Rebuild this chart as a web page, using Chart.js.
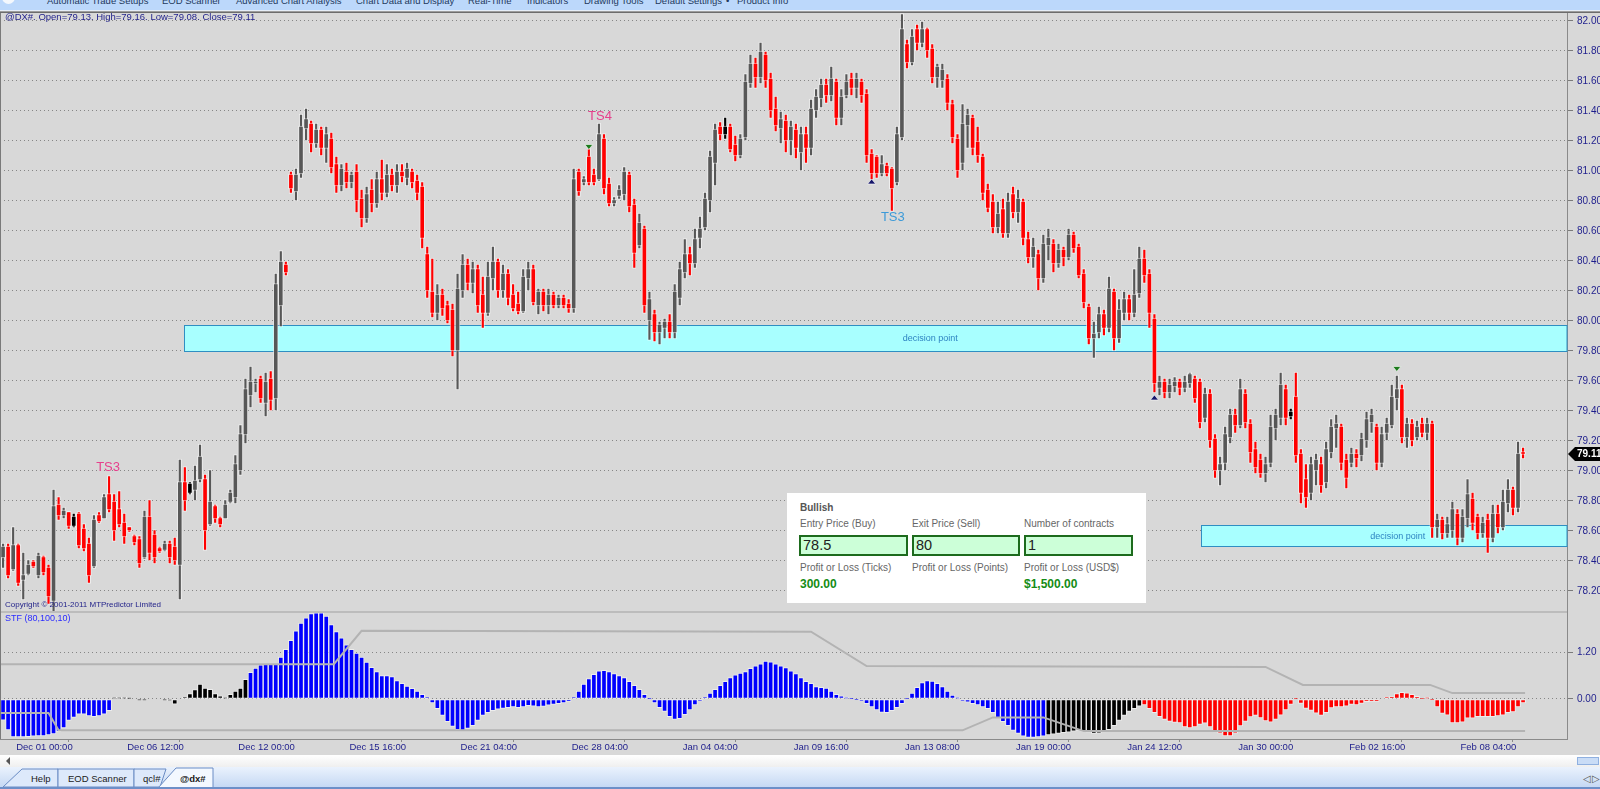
<!DOCTYPE html>
<html>
<head>
<meta charset="utf-8">
<script src="https://cdn.jsdelivr.net/npm/chart.js@4.4.1/dist/chart.umd.min.js"></script>
<style>
body{margin:0;width:1600px;height:789px;overflow:hidden;background:#d8d8d8;position:relative;font-family:"Liberation Sans",Arial,sans-serif}
.abs{position:absolute}
#menu{left:0;top:0;width:1600px;height:10px;background:#bcd8fb;overflow:hidden}
#menu span{position:absolute;top:-5px;font-size:9.5px;line-height:12px;color:#23395d;white-space:nowrap}
#title{left:5px;top:11px;font-size:9.5px;line-height:12px;color:#1e1e8a;white-space:nowrap}
#copy{left:5px;top:600px;font-size:8px;line-height:10px;color:#24248a;white-space:nowrap}
#stf{left:5px;top:613px;font-size:9px;line-height:11px;color:#2a2aff;white-space:nowrap}
#box{left:787px;top:493px;width:359px;height:110px;background:#fff}
#box div{position:absolute;white-space:nowrap}
.lbl{font-size:10px;line-height:12px;color:#666}
.inp{top:42px;height:17px;border:2px solid #1d6b1d;background:#ccffd8;font-size:14.5px;line-height:17px;color:#222;padding-left:2px;box-sizing:content-box}
.val{top:84px;font-size:12px;line-height:14px;font-weight:bold;color:#148c14}
#scroll{left:0;top:755px;width:1600px;height:12px;background:linear-gradient(#ffffff,#efefef)}
</style>
</head>
<body>
<div id="menu" class="abs">
  <div class="abs" style="left:2px;top:-9px;width:13px;height:13px;border-radius:7px;background:#f4f8fd"></div>
  <span style="left:47px">Automatic Trade Setups</span>
  <span style="left:162px">EOD Scanner</span>
  <span style="left:236px">Advanced Chart Analysis</span>
  <span style="left:356px">Chart Data and Display</span>
  <span style="left:468px">Real-Time</span>
  <span style="left:527px">Indicators</span>
  <span style="left:584px">Drawing Tools</span>
  <span style="left:655px">Default Settings</span>
  <span style="left:726px">•</span>
  <span style="left:737px">Product Info</span>
</div>
<div class="abs" style="left:0;top:10px;width:1600px;height:1px;background:#e6eef8"></div>
<div class="abs" style="left:0;top:11px;width:1600px;height:1px;background:#9c9c9c"></div>
<div class="abs" style="left:0;top:12px;width:1600px;height:1px;background:#6c6c6c"></div>

<canvas id="price" class="abs" width="1600" height="599" style="left:0;top:13px"></canvas>
<canvas id="osc" class="abs" width="1600" height="143" style="left:0;top:612px"></canvas>

<div class="abs" style="left:0;top:611px;width:1567px;height:2px;background:#bcbcbc"></div>
<div class="abs" style="left:0;top:13px;width:1px;height:726px;background:#7a7a7a"></div>

<div id="title" class="abs">@DX#. Open=79.13. High=79.16. Low=79.08. Close=79.11</div>
<div id="copy" class="abs">Copyright © 2001-2011 MTPredictor Limited</div>
<div id="stf" class="abs">STF (80,100,10)</div>

<div id="box" class="abs">
  <div class="lbl" style="left:13px;top:9px;font-weight:bold;color:#555">Bullish</div>
  <div class="lbl" style="left:13px;top:25px">Entry Price (Buy)</div>
  <div class="lbl" style="left:125px;top:25px">Exit Price (Sell)</div>
  <div class="lbl" style="left:237px;top:25px">Number of contracts</div>
  <div class="inp" style="left:12px;width:103px">78.5</div>
  <div class="inp" style="left:125px;width:102px">80</div>
  <div class="inp" style="left:237px;width:103px">1</div>
  <div class="lbl" style="left:13px;top:69px">Profit or Loss (Ticks)</div>
  <div class="lbl" style="left:125px;top:69px">Profit or Loss (Points)</div>
  <div class="lbl" style="left:237px;top:69px">Profit or Loss (USD$)</div>
  <div class="val" style="left:13px">300.00</div>
  <div class="val" style="left:237px">$1,500.00</div>
</div>

<div id="scroll" class="abs">
  <div class="abs" style="left:6px;top:2px;width:0;height:0;border-top:4px solid transparent;border-bottom:4px solid transparent;border-right:4px solid #555"></div>
  <div class="abs" style="left:1577px;top:2px;width:22px;height:8px;background:#c9dcf6;border:1px solid #8fb0e0;box-sizing:border-box"></div>
</div>
<svg class="abs" style="left:0;top:767px" width="1600" height="22">
  <defs><linearGradient id="tb" x1="0" y1="0" x2="0" y2="1"><stop offset="0" stop-color="#eaf2fd"/><stop offset="1" stop-color="#c2d6f3"/></linearGradient></defs>
  <rect width="1600" height="22" fill="url(#tb)"/>
  <path d="M3 20 L22 2 L58 2 L58 20 Z" fill="#dde9fb" stroke="#6a8cc4"/>
  <rect x="58" y="2" width="76" height="18" fill="#dde9fb" stroke="#6a8cc4"/>
  <path d="M134 20 L134 2 L166 2 L160 20 Z" fill="#dde9fb" stroke="#6a8cc4"/>
  <path d="M158 21 L176 1 L213 1 L213 21 Z" fill="#f3f8ff" stroke="#6a8cc4"/>
  <g font-family="Liberation Sans, Arial, sans-serif" font-size="9.5" fill="#1a1a1a">
    <text x="31" y="15">Help</text>
    <text x="68" y="15">EOD Scanner</text>
    <text x="143" y="15">qcl#</text>
    <text x="180" y="15" font-weight="bold">@dx#</text>
    <text x="1583" y="15" fill="#555">◁</text>
    <text x="1592" y="15" fill="#555">▷</text>
  </g>
  <rect y="20" width="1600" height="2" fill="#6d8fc8"/>
</svg>

<script>
"use strict";
// 4 hour bars of the dollar index, [open, high, low, close]
const ohlc = [
  [78.42,78.52,78.35,78.50],[78.50,78.52,78.28,78.30],[78.34,78.63,78.33,78.51],[78.51,78.52,78.23,78.25],[78.27,78.46,78.14,78.31],
  [78.31,78.41,78.30,78.38],[78.40,78.41,78.35,78.36],[78.30,78.46,78.28,78.44],[78.43,78.44,78.30,78.32],[78.36,78.38,78.11,78.16],
  [78.13,78.88,78.06,78.77],[78.78,78.83,78.67,78.70],[78.70,78.76,78.68,78.74],[78.73,78.73,78.61,78.63],[78.63,78.72,78.62,78.70],
  [78.72,78.73,78.48,78.50],[78.62,78.65,78.46,78.48],[78.52,78.56,78.25,78.30],[78.36,78.71,78.35,78.68],[78.71,78.73,78.65,78.66],
  [78.68,78.85,78.68,78.83],[78.85,78.97,78.72,78.74],[78.80,78.85,78.53,78.60],[78.75,78.87,78.62,78.64],[78.66,78.72,78.51,78.56],
  [78.63,78.63,78.59,78.60],[78.57,78.58,78.50,78.52],[78.55,78.57,78.35,78.38],[78.42,78.74,78.41,78.70],[78.70,78.81,78.40,78.45],
  [78.58,78.61,78.38,78.42],[78.49,78.50,78.45,78.46],[78.47,78.54,78.46,78.52],[78.52,78.54,78.38,78.42],[78.50,78.56,78.37,78.40],
  [78.37,79.08,78.14,78.93],[78.93,79.03,78.73,78.80],[78.85,78.93,78.84,78.92],[78.87,79.04,78.80,78.94],[78.94,79.18,78.92,79.10],
  [78.95,78.98,78.47,78.60],[78.64,79.01,78.63,78.80],[78.77,78.78,78.65,78.68],[78.69,78.70,78.62,78.64],[78.68,78.81,78.68,78.78],
  [78.79,78.88,78.78,78.86],[78.82,79.11,78.78,79.05],[79.00,79.31,78.97,79.25],[79.24,79.62,79.18,79.55],[79.50,79.70,79.42,79.60],
  [79.58,79.62,79.52,79.60],[79.62,79.64,79.45,79.48],[79.45,79.66,79.36,79.60],[79.62,79.67,79.40,79.47],[79.48,80.32,79.40,80.25],
  [80.10,80.47,79.96,80.40],[80.38,80.40,80.30,80.32],[80.98,81.00,80.85,80.88],[80.86,81.02,80.80,80.98],[80.98,81.38,80.95,81.30],
  [81.28,81.42,81.20,81.35],[81.32,81.34,81.12,81.18],[81.18,81.32,81.15,81.28],[81.28,81.30,81.10,81.15],[81.15,81.30,81.05,81.25],
  [81.22,81.26,80.98,81.02],[81.05,81.10,80.85,80.90],[80.90,81.05,80.86,81.02],[81.00,81.06,80.88,80.92],[80.92,81.00,80.88,80.98],
  [81.00,81.05,80.72,80.80],[80.82,80.88,80.62,80.68],[80.68,80.90,80.65,80.85],[80.88,80.95,80.72,80.78],[80.78,81.00,80.75,80.95],
  [80.95,81.08,80.80,80.85],[80.85,81.05,80.82,80.98],[80.98,81.02,80.86,80.90],[80.90,81.05,80.85,81.00],[81.00,81.05,80.92,80.96],
  [80.95,81.06,80.90,81.02],[81.00,81.02,80.88,80.92],[80.94,80.98,80.80,80.85],[80.90,80.93,80.48,80.55],[80.45,80.50,80.15,80.20],
  [80.20,80.42,80.02,80.05],[80.05,80.25,80.00,80.18],[80.18,80.22,80.03,80.08],[80.11,80.14,79.98,80.00],[80.08,80.12,79.76,79.80],
  [79.80,80.32,79.54,80.22],[80.20,80.45,80.15,80.38],[80.38,80.42,80.20,80.25],[80.25,80.40,80.18,80.35],[80.35,80.38,80.05,80.10],
  [80.18,80.30,79.95,80.05],[80.05,80.40,80.03,80.30],[80.28,80.50,80.20,80.40],[80.40,80.42,80.15,80.20],[80.20,80.38,80.15,80.32],
  [80.32,80.35,80.10,80.15],[80.18,80.25,80.06,80.08],[80.12,80.20,80.04,80.06],[80.06,80.35,80.05,80.30],[80.28,80.40,80.20,80.35],
  [80.35,80.38,80.10,80.12],[80.10,80.22,80.04,80.20],[80.20,80.22,80.06,80.10],[80.10,80.22,80.04,80.18],[80.18,80.20,80.08,80.10],
  [80.10,80.18,80.08,80.16],[80.16,80.18,80.08,80.10],[80.12,80.15,80.05,80.08],[80.08,81.02,80.05,80.95],[81.00,81.02,80.83,80.86],
  [80.92,80.97,80.90,80.95],[81.10,81.15,80.90,80.92],[80.98,81.02,80.90,80.92],[80.94,81.32,80.93,81.25],[81.22,81.25,80.84,80.88],
  [80.92,80.96,80.76,80.78],[80.78,80.83,80.76,80.81],[80.83,80.91,80.81,80.88],[80.84,81.03,80.80,81.00],[80.98,81.00,80.72,80.76],
  [80.78,80.82,80.35,80.45],[80.50,80.72,80.48,80.66],[80.62,80.64,80.05,80.10],[80.00,80.20,79.87,80.15],[80.05,80.08,79.86,79.92],
  [79.92,80.00,79.84,79.98],[79.95,80.02,79.88,80.00],[80.00,80.05,79.88,79.92],[79.92,80.25,79.88,80.20],[80.15,80.40,80.10,80.35],
  [80.32,80.55,80.28,80.45],[80.45,80.50,80.30,80.38],[80.38,80.62,80.35,80.55],[80.55,80.70,80.48,80.62],[80.62,80.86,80.60,80.82],
  [80.80,81.14,80.72,81.10],[81.05,81.32,80.90,81.28],[81.30,81.33,81.20,81.24],[81.24,81.36,81.21,81.30],[81.30,81.32,81.12,81.14],
  [81.18,81.24,81.06,81.10],[81.10,81.25,81.08,81.22],[81.22,81.65,81.20,81.60],[81.58,81.78,81.55,81.72],[81.72,81.76,81.55,81.62],
  [81.62,81.86,81.58,81.80],[81.78,81.80,81.55,81.60],[81.62,81.66,81.35,81.40],[81.42,81.50,81.26,81.30],[81.28,81.40,81.18,81.35],
  [81.34,81.38,81.12,81.20],[81.20,81.34,81.10,81.30],[81.28,81.32,81.08,81.15],[81.12,81.30,81.00,81.25],[81.25,81.30,81.05,81.15],
  [81.15,81.48,81.10,81.42],[81.40,81.55,81.35,81.50],[81.48,81.62,81.42,81.58],[81.58,81.62,81.45,81.50],[81.50,81.70,81.46,81.62],
  [81.60,81.62,81.30,81.35],[81.35,81.55,81.30,81.50],[81.50,81.65,81.48,81.60],[81.62,81.66,81.50,81.55],[81.55,81.66,81.48,81.62],
  [81.60,81.62,81.45,81.50],[81.52,81.55,81.05,81.10],[81.12,81.15,80.94,80.98],[81.10,81.11,80.95,80.98],[80.98,81.11,80.96,81.05],
  [81.04,81.06,80.96,80.98],[81.02,81.03,80.73,80.88],[80.92,81.30,80.90,81.25],[81.22,82.05,81.20,81.95],[81.85,81.88,81.68,81.72],
  [81.72,81.95,81.70,81.90],[81.95,81.98,81.80,81.85],[81.85,82.00,81.82,81.95],[81.95,81.96,81.75,81.80],[81.82,81.85,81.58,81.62],
  [81.62,81.72,81.55,81.70],[81.60,81.72,81.55,81.68],[81.62,81.65,81.40,81.45],[81.45,81.48,81.18,81.22],[81.22,81.25,80.95,81.00],
  [81.05,81.45,81.00,81.32],[81.30,81.42,81.15,81.38],[81.36,81.38,81.10,81.15],[81.20,81.30,81.05,81.10],[81.10,81.12,80.80,80.85],
  [80.88,80.92,80.72,80.75],[80.80,80.85,80.58,80.62],[80.62,80.80,80.58,80.72],[80.75,80.82,80.55,80.58],[80.58,80.86,80.55,80.80],
  [80.85,80.90,80.68,80.72],[80.72,80.88,80.65,80.82],[80.80,80.82,80.50,80.55],[80.55,80.60,80.38,80.42],[80.42,80.56,80.35,80.50],
  [80.45,80.48,80.20,80.28],[80.28,80.58,80.25,80.52],[80.50,80.62,80.40,80.56],[80.52,80.55,80.32,80.38],[80.38,80.52,80.35,80.48],
  [80.48,80.50,80.36,80.42],[80.42,80.62,80.40,80.58],[80.58,80.60,80.45,80.48],[80.50,80.52,80.28,80.30],[80.32,80.35,80.08,80.12],
  [80.10,80.12,79.84,79.88],[79.88,80.00,79.75,79.92],[79.92,80.10,79.88,80.05],[80.05,80.08,79.90,79.95],[79.95,80.30,79.92,80.22],
  [80.20,80.22,79.80,79.88],[79.88,80.15,79.85,80.08],[80.05,80.20,80.00,80.15],[80.15,80.18,80.00,80.05],[80.05,80.35,80.02,80.18],
  [80.18,80.50,80.15,80.42],[80.42,80.48,80.25,80.30],[80.32,80.35,79.95,80.05],[80.02,80.05,79.52,79.58],[79.55,79.64,79.50,79.60],
  [79.60,79.62,79.48,79.52],[79.52,79.62,79.48,79.58],[79.56,79.63,79.52,79.60],[79.60,79.62,79.50,79.55],[79.55,79.64,79.52,79.60],
  [79.58,79.66,79.55,79.65],[79.62,79.64,79.45,79.48],[79.60,79.62,79.28,79.32],[79.35,79.56,79.32,79.52],[79.52,79.55,79.15,79.20],
  [79.22,79.25,78.95,79.00],[79.00,79.10,78.90,79.05],[79.05,79.30,79.00,79.25],[79.22,79.42,79.18,79.38],[79.38,79.42,79.25,79.30],
  [79.30,79.62,79.28,79.55],[79.52,79.55,79.28,79.32],[79.32,79.35,79.05,79.12],[79.15,79.20,78.98,79.02],[79.08,79.12,78.95,78.98],
  [78.98,79.10,78.92,79.05],[79.05,79.38,79.02,79.30],[79.28,79.42,79.20,79.38],[79.35,79.66,79.30,79.58],[79.55,79.58,79.30,79.35],
  [79.36,79.42,79.34,79.40],[79.50,79.66,79.05,79.10],[79.12,79.15,78.78,78.85],[78.95,79.05,78.75,78.82],[78.85,79.10,78.80,79.05],
  [79.00,79.12,78.90,79.08],[79.05,79.10,78.85,78.90],[78.92,79.20,78.88,79.15],[79.12,79.35,79.08,79.30],[79.28,79.38,79.15,79.32],
  [79.30,79.32,79.00,79.05],[79.08,79.12,78.88,78.95],[79.05,79.16,79.02,79.12],[79.12,79.15,79.02,79.08],[79.10,79.26,79.06,79.22],
  [79.20,79.40,79.15,79.35],[79.32,79.42,79.25,79.38],[79.30,79.32,79.00,79.05],[79.05,79.30,79.02,79.25],[79.25,79.36,79.20,79.32],
  [79.30,79.58,79.28,79.50],[79.48,79.64,79.40,79.55],[79.55,79.58,79.18,79.22],[79.22,79.36,79.15,79.32],[79.32,79.35,79.16,79.20],
  [79.22,79.34,79.20,79.30],[79.32,79.36,79.22,79.25],[79.25,79.36,79.20,79.32],[79.32,79.34,78.55,78.62],[78.62,78.72,78.55,78.68],
  [78.68,78.70,78.54,78.58],[78.58,78.70,78.55,78.65],[78.60,78.80,78.55,78.75],[78.72,78.75,78.50,78.55],[78.55,78.75,78.52,78.70],
  [78.68,78.95,78.62,78.85],[78.82,78.86,78.60,78.65],[78.70,78.72,78.54,78.58],[78.58,78.70,78.55,78.66],[78.68,78.72,78.45,78.55],
  [78.55,78.78,78.52,78.72],[78.72,78.78,78.58,78.62],[78.62,78.88,78.60,78.80],[78.78,78.95,78.72,78.88],[78.88,78.90,78.70,78.75],
  [78.75,79.20,78.72,79.12],[79.13,79.16,79.08,79.11]
];
const blackBars = [14, 37, 143, 255];

// STF histogram, one value per bar
const stf = [
  -0.54,-0.79,-0.97,-0.97,-0.97,-0.96,-0.95,-0.94,-0.94,-0.92,-0.89,-0.83,-0.74,-0.55,-0.47,-0.39,-0.39,-0.43,-0.45,-0.43,
  -0.39,-0.30,0.04,0.04,0.04,0.03,0.00,-0.03,-0.03,0.00,0.00,0.00,-0.03,-0.04,-0.13,0.00,0.05,0.14,0.24,0.38,
  0.28,0.25,0.14,0.08,0.04,0.12,0.20,0.28,0.50,0.68,0.79,0.87,0.89,0.89,0.89,1.07,1.27,1.50,1.74,1.94,
  2.07,2.18,2.20,2.20,2.12,1.90,1.72,1.56,1.38,1.27,1.17,1.07,0.94,0.81,0.70,0.60,0.60,0.57,0.47,0.40,
  0.33,0.27,0.20,0.12,0.05,-0.10,-0.25,-0.42,-0.58,-0.70,-0.78,-0.80,-0.75,-0.68,-0.55,-0.42,-0.35,-0.30,-0.26,-0.24,
  -0.22,-0.20,-0.22,-0.20,-0.17,-0.18,-0.20,-0.19,-0.16,-0.14,-0.12,-0.10,-0.06,0.05,0.20,0.38,0.52,0.63,0.72,0.73,
  0.70,0.65,0.60,0.55,0.45,0.35,0.25,0.12,0.02,-0.10,-0.22,-0.32,-0.45,-0.52,-0.50,-0.40,-0.28,-0.15,-0.05,0.05,
  0.15,0.25,0.35,0.45,0.55,0.62,0.66,0.70,0.78,0.85,0.90,0.97,0.95,0.90,0.85,0.80,0.72,0.65,0.55,0.45,
  0.40,0.32,0.30,0.28,0.20,0.12,0.08,0.04,0.02,-0.02,-0.05,-0.12,-0.20,-0.28,-0.34,-0.35,-0.30,-0.22,-0.12,0.02,
  0.15,0.30,0.42,0.47,0.46,0.40,0.32,0.20,0.10,0.04,-0.05,-0.08,-0.12,-0.15,-0.20,-0.25,-0.35,-0.48,-0.58,-0.68,
  -0.80,-0.88,-0.95,-0.98,-0.98,-0.97,-0.95,-0.92,-0.90,-0.88,-0.86,-0.85,-0.82,-0.80,-0.82,-0.85,-0.88,-0.87,-0.84,-0.78,
  -0.68,-0.55,-0.42,-0.32,-0.25,-0.18,-0.15,-0.25,-0.35,-0.45,-0.52,-0.57,-0.60,-0.61,-0.71,-0.74,-0.71,-0.65,-0.62,-0.71,
  -0.84,-0.87,-0.94,-0.94,-0.87,-0.69,-0.57,-0.46,-0.42,-0.48,-0.56,-0.59,-0.52,-0.41,-0.28,-0.14,0.02,-0.11,-0.24,-0.29,
  -0.36,-0.42,-0.35,-0.23,-0.20,-0.20,-0.18,-0.14,-0.15,-0.11,-0.07,-0.06,-0.06,0.00,0.05,0.06,0.14,0.17,0.16,0.12,
  0.07,0.01,0.04,-0.02,-0.20,-0.37,-0.41,-0.61,-0.61,-0.59,-0.49,-0.49,-0.45,-0.45,-0.45,-0.45,-0.43,-0.41,-0.35,-0.33,
  -0.20,-0.10
];
const stfRunStart = [0, 22, 49, 207, 226];
const stfRunColor = ['#0000ff', '#000000', '#0000ff', '#000000', '#ff0000'];

// STF band lines (bar index, value)
const upperBandX = [-1, 65.5, 71, 160, 171, 250, 257.4, 282.6, 287, 301.4];
const upperBandY = [0.89, 0.89, 1.74, 1.72, 0.84, 0.82, 0.36, 0.36, 0.15, 0.15];
const lowerBandX = [-1, 9, 11, 190, 196, 206, 214, 301.4];
const lowerBandY = [-0.36, -0.36, -0.80, -0.80, -0.47, -0.47, -0.82, -0.82];

// axis ticks
const tickIdx = [2, 24, 46, 68, 90, 112, 134, 156, 178, 200, 222, 244, 266, 288];
const tickText = ['Dec 01 00:00', 'Dec 06 12:00', 'Dec 12 00:00', 'Dec 15 16:00', 'Dec 21 04:00', 'Dec 28 04:00', 'Jan 04 04:00',
  'Jan 09 16:00', 'Jan 13 08:00', 'Jan 19 00:00', 'Jan 24 12:00', 'Jan 30 00:00', 'Feb 02 16:00', 'Feb 08 04:00'];
const priceTicks = [78.2, 78.4, 78.6, 78.8, 79.0, 79.2, 79.4, 79.6, 79.8, 80.0, 80.2, 80.4, 80.6, 80.8, 81.0, 81.2, 81.4, 81.6, 81.8, 82.0];
const stfTicks = [0, 1.2];

// decision point zones
const zoneFrom = [35.8, 237.2];
const zoneLo = [79.80, 78.50];
const zoneHi = [79.975, 78.64];
const zoneLabelAt = [183.6, 276.2];

// trade setup labels and markers
const tsText = ['TS3', 'TS4', 'TS3'];
const tsIdx = [20.8, 118.2, 176.2];
const tsPrice = [79.025, 81.367, 80.689];
const tsColor = ['#e6408c', '#e6408c', '#3c9ad8'];
const triIdx = [116, 172, 228, 276];
const triPrice = [81.16, 80.93, 79.49, 79.68];
const triDown = [true, false, false, true];
const lastPrice = 79.11;

const xMin = -0.606, xMax = 309.7;
const font = 'Liberation Sans, Arial, sans-serif';
const halo = 'rgba(255,255,255,0.55)';

const candleColor = (i) => {
  if (blackBars.includes(i)) return '#000000';
  return ohlc[i][3] < ohlc[i][0] ? '#ff0000' : '#575757';
};
const stfColor = (i) => {
  let c = stfRunColor[0];
  stfRunStart.forEach((s, k) => { if (i >= s) c = stfRunColor[k]; });
  return c;
};
const noPad = (s) => { s.paddingTop = 0; s.paddingBottom = 0; s.paddingLeft = 0; s.paddingRight = 0; };

const zonesAndMarks = {
  id: 'zonesAndMarks',
  beforeDatasetsDraw(chart) {
    const {ctx, chartArea, scales: {x, y}} = chart;
    ctx.save();
    zoneFrom.forEach((from, k) => {
      const l = Math.round(x.getPixelForValue(from)) + 0.5;
      const t = Math.round(y.getPixelForValue(zoneHi[k])) + 0.5;
      const b = Math.round(y.getPixelForValue(zoneLo[k])) + 0.5;
      ctx.fillStyle = '#a8ffff';
      ctx.fillRect(l, t, chartArea.right - l, b - t);
      ctx.strokeStyle = '#2f8ec2';
      ctx.lineWidth = 1;
      ctx.strokeRect(l, t, chartArea.right - l, b - t);
      ctx.fillStyle = '#2e84c2';
      ctx.font = '9px ' + font;
      ctx.textAlign = 'center';
      ctx.textBaseline = 'middle';
      ctx.fillText('decision point', x.getPixelForValue(zoneLabelAt[k]), (t + b) / 2 + 0.5);
    });
    ctx.restore();
  },
  afterDatasetsDraw(chart) {
    const {ctx, scales: {x, y}} = chart;
    ctx.save();
    ctx.font = '13px ' + font;
    ctx.textAlign = 'center';
    ctx.textBaseline = 'middle';
    tsText.forEach((t, k) => {
      ctx.fillStyle = tsColor[k];
      ctx.fillText(t, x.getPixelForValue(tsIdx[k]), y.getPixelForValue(tsPrice[k]));
    });
    triIdx.forEach((ix, k) => {
      const px = x.getPixelForValue(ix), py = y.getPixelForValue(triPrice[k]);
      ctx.beginPath();
      if (triDown[k]) {
        ctx.moveTo(px - 4, py - 2.5); ctx.lineTo(px + 4, py - 2.5); ctx.lineTo(px, py + 2.5);
      } else {
        ctx.moveTo(px - 4, py + 2.5); ctx.lineTo(px + 4, py + 2.5); ctx.lineTo(px, py - 2.5);
      }
      ctx.closePath();
      ctx.fillStyle = triDown[k] ? '#1d7a1d' : '#16166a';
      ctx.fill();
      ctx.strokeStyle = 'rgba(255,255,255,0.6)';
      ctx.lineWidth = 1;
      ctx.stroke();
    });
    ctx.restore();
  },
  afterDraw(chart) {
    const {ctx, chartArea, scales: {y}} = chart;
    const py = Math.round(y.getPixelForValue(lastPrice));
    const r = chartArea.right + 1;
    ctx.save();
    ctx.beginPath();
    ctx.moveTo(r, py); ctx.lineTo(r + 7, py - 7); ctx.lineTo(1600, py - 7); ctx.lineTo(1600, py + 7); ctx.lineTo(r + 7, py + 7);
    ctx.closePath();
    ctx.fillStyle = '#000';
    ctx.fill();
    ctx.fillStyle = '#fff';
    ctx.font = 'bold 10px ' + font;
    ctx.textAlign = 'left';
    ctx.textBaseline = 'middle';
    ctx.fillText(lastPrice.toFixed(2), r + 9, py + 0.5);
    ctx.restore();
  }
};

new Chart(document.getElementById('price'), {
  type: 'bar',
  data: {
    datasets: [
      {
        label: 'body',
        data: ohlc.map((d, i) => ({x: i, y: [d[0], d[3]]})),
        backgroundColor: (c) => candleColor(c.dataIndex),
        borderColor: halo,
        borderWidth: 1,
        borderSkipped: false,
        barThickness: 5,
        minBarLength: 3,
        grouped: false,
        order: 1
      },
      {
        label: 'wick',
        data: ohlc.map((d, i) => ({x: i, y: [d[2], d[1]]})),
        backgroundColor: (c) => candleColor(c.dataIndex),
        borderColor: halo,
        borderWidth: 1,
        borderSkipped: false,
        barThickness: 3.5,
        grouped: false,
        order: 2
      }
    ]
  },
  options: {
    responsive: false,
    animation: false,
    devicePixelRatio: 1,
    layout: {padding: 0},
    plugins: {legend: {display: false}, tooltip: {enabled: false}},
    scales: {
      x: {type: 'linear', min: xMin, max: xMax, offset: false, display: false},
      y: {
        position: 'right',
        min: 78.06,
        max: 82.05333,
        afterBuildTicks: (s) => { s.ticks = priceTicks.map(v => ({value: v})); },
        afterFit: (s) => { s.width = 33; noPad(s); },
        ticks: {callback: (v) => Number(v).toFixed(2), color: '#1e1e8c', font: {size: 10, family: font}, padding: 4},
        grid: {color: '#868686', tickColor: '#7a7a7a', tickLength: 6, tickBorderDash: []},
        border: {color: '#8a8a8a', dash: [1, 3]}
      }
    }
  },
  plugins: [zonesAndMarks]
});

const bandLine = (xs, ys) => ({
  type: 'line',
  data: xs.map((v, k) => ({x: v, y: ys[k]})),
  borderColor: '#b3b3b3',
  borderWidth: 2,
  pointRadius: 0,
  tension: 0,
  order: 0
});

new Chart(document.getElementById('osc'), {
  type: 'bar',
  data: {
    datasets: [
      {
        label: 'STF',
        data: stf.map((v, i) => ({x: i, y: v})),
        backgroundColor: (c) => stfColor(c.dataIndex),
        borderColor: halo,
        borderWidth: 1,
        borderSkipped: false,
        barThickness: 5,
        grouped: false,
        order: 1
      },
      bandLine(upperBandX, upperBandY),
      bandLine(lowerBandX, lowerBandY)
    ]
  },
  options: {
    responsive: false,
    animation: false,
    devicePixelRatio: 1,
    layout: {padding: 0},
    plugins: {legend: {display: false}, tooltip: {enabled: false}},
    scales: {
      x: {
        type: 'linear',
        min: xMin,
        max: xMax,
        offset: false,
        afterBuildTicks: (s) => { s.ticks = tickIdx.map(v => ({value: v})); },
        afterFit: (s) => { s.height = 16; noPad(s); },
        ticks: {
          callback: (v, i) => tickText[i],
          align: 'start',
          labelOffset: 3,
          autoSkip: false,
          maxRotation: 0,
          minRotation: 0,
          padding: 0,
          color: '#1e1e8c',
          font: {size: 9.5, family: font}
        },
        grid: {drawOnChartArea: false, tickLength: 3, tickColor: '#8a8a8a'},
        border: {color: '#8a8a8a'}
      },
      y: {
        position: 'right',
        min: -1.0213,
        max: 2.2213,
        afterBuildTicks: (s) => { s.ticks = stfTicks.map(v => ({value: v})); },
        afterFit: (s) => { s.width = 33; noPad(s); },
        ticks: {callback: (v) => Number(v).toFixed(2), color: '#1e1e8c', font: {size: 10, family: font}, padding: 4},
        grid: {color: '#868686', tickColor: '#7a7a7a', tickLength: 6, tickBorderDash: []},
        border: {color: '#8a8a8a', dash: [1, 3]}
      }
    }
  }
});
</script>
</body>
</html>
